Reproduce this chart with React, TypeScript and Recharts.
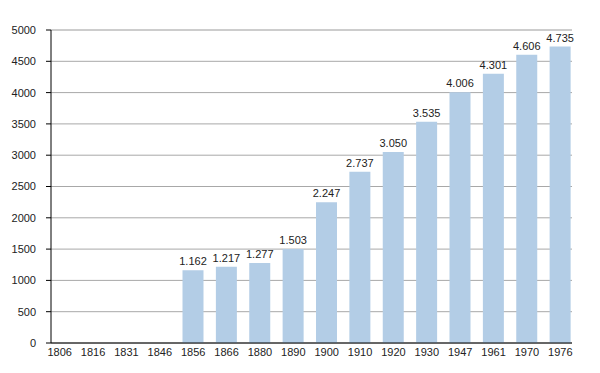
import { BarChart, Bar, XAxis, YAxis, CartesianGrid, LabelList } from "recharts"

const years = ["1806", "1816", "1831", "1846", "1856", "1866", "1880", "1890", "1900", "1910", "1920", "1930", "1947", "1961", "1970", "1976"]
const population = [null, null, null, null, 1162, 1217, 1277, 1503, 2247, 2737, 3050, 3535, 4006, 4301, 4606, 4735]
const majorTicks = [0, 500, 1000, 1500, 2000, 2500, 3000, 3500, 4000, 4500, 5000]
const minorTicks = [250, 750, 1250, 1750, 2250, 2750, 3250, 3750, 4250, 4750]

const data = years.map((year, i) => ({ year, value: population[i] }))

// thousands separator is a dot, as in the source
const fmt = (v: any) => (v == null ? "" : String(v).replace(/\B(?=(\d{3})+(?!\d))/g, "."))

export default function App() {
  return (
    <div style={{ position: "absolute", left: 0, top: 0, fontFamily: "'Liberation Sans', Arial, sans-serif" }}>
      <BarChart width={600} height={373} data={data} margin={{ top: 30, right: 28, left: 0, bottom: 0 }}>
        <CartesianGrid yAxisId="minor" vertical={false} stroke="#e4e4e4" />
        <CartesianGrid yAxisId="main" vertical={false} stroke="#a8a8a8" />
        <XAxis
          dataKey="year"
          height={30}
          padding={{ left: -8, right: -5 }}
          tickLine={false}
          axisLine={{ stroke: "#000" }}
          tick={{ fontSize: 11, fill: "#222" }}
          tickSize={5}
          tickMargin={0}
          interval={0}
        />
        <YAxis
          yAxisId="main"
          width={51}
          domain={[0, 5000]}
          ticks={majorTicks}
          axisLine={{ stroke: "#000" }}
          tickLine={{ stroke: "#000" }}
          tickSize={5}
          tickMargin={10}
          tick={{ fontSize: 11, fill: "#222" }}
        />
        <YAxis
          yAxisId="minor"
          width={0}
          domain={[0, 5000]}
          ticks={minorTicks}
          axisLine={false}
          tickLine={{ stroke: "#000" }}
          tickSize={3}
          tickFormatter={() => ""}
        />
        <Bar yAxisId="main" dataKey="value" fill="#b3cde6" barSize={21} isAnimationActive={false}>
          <LabelList dataKey="value" position="top" formatter={fmt} offset={5} style={{ fontSize: 11, fill: "#222" }} />
        </Bar>
      </BarChart>
    </div>
  )
}
